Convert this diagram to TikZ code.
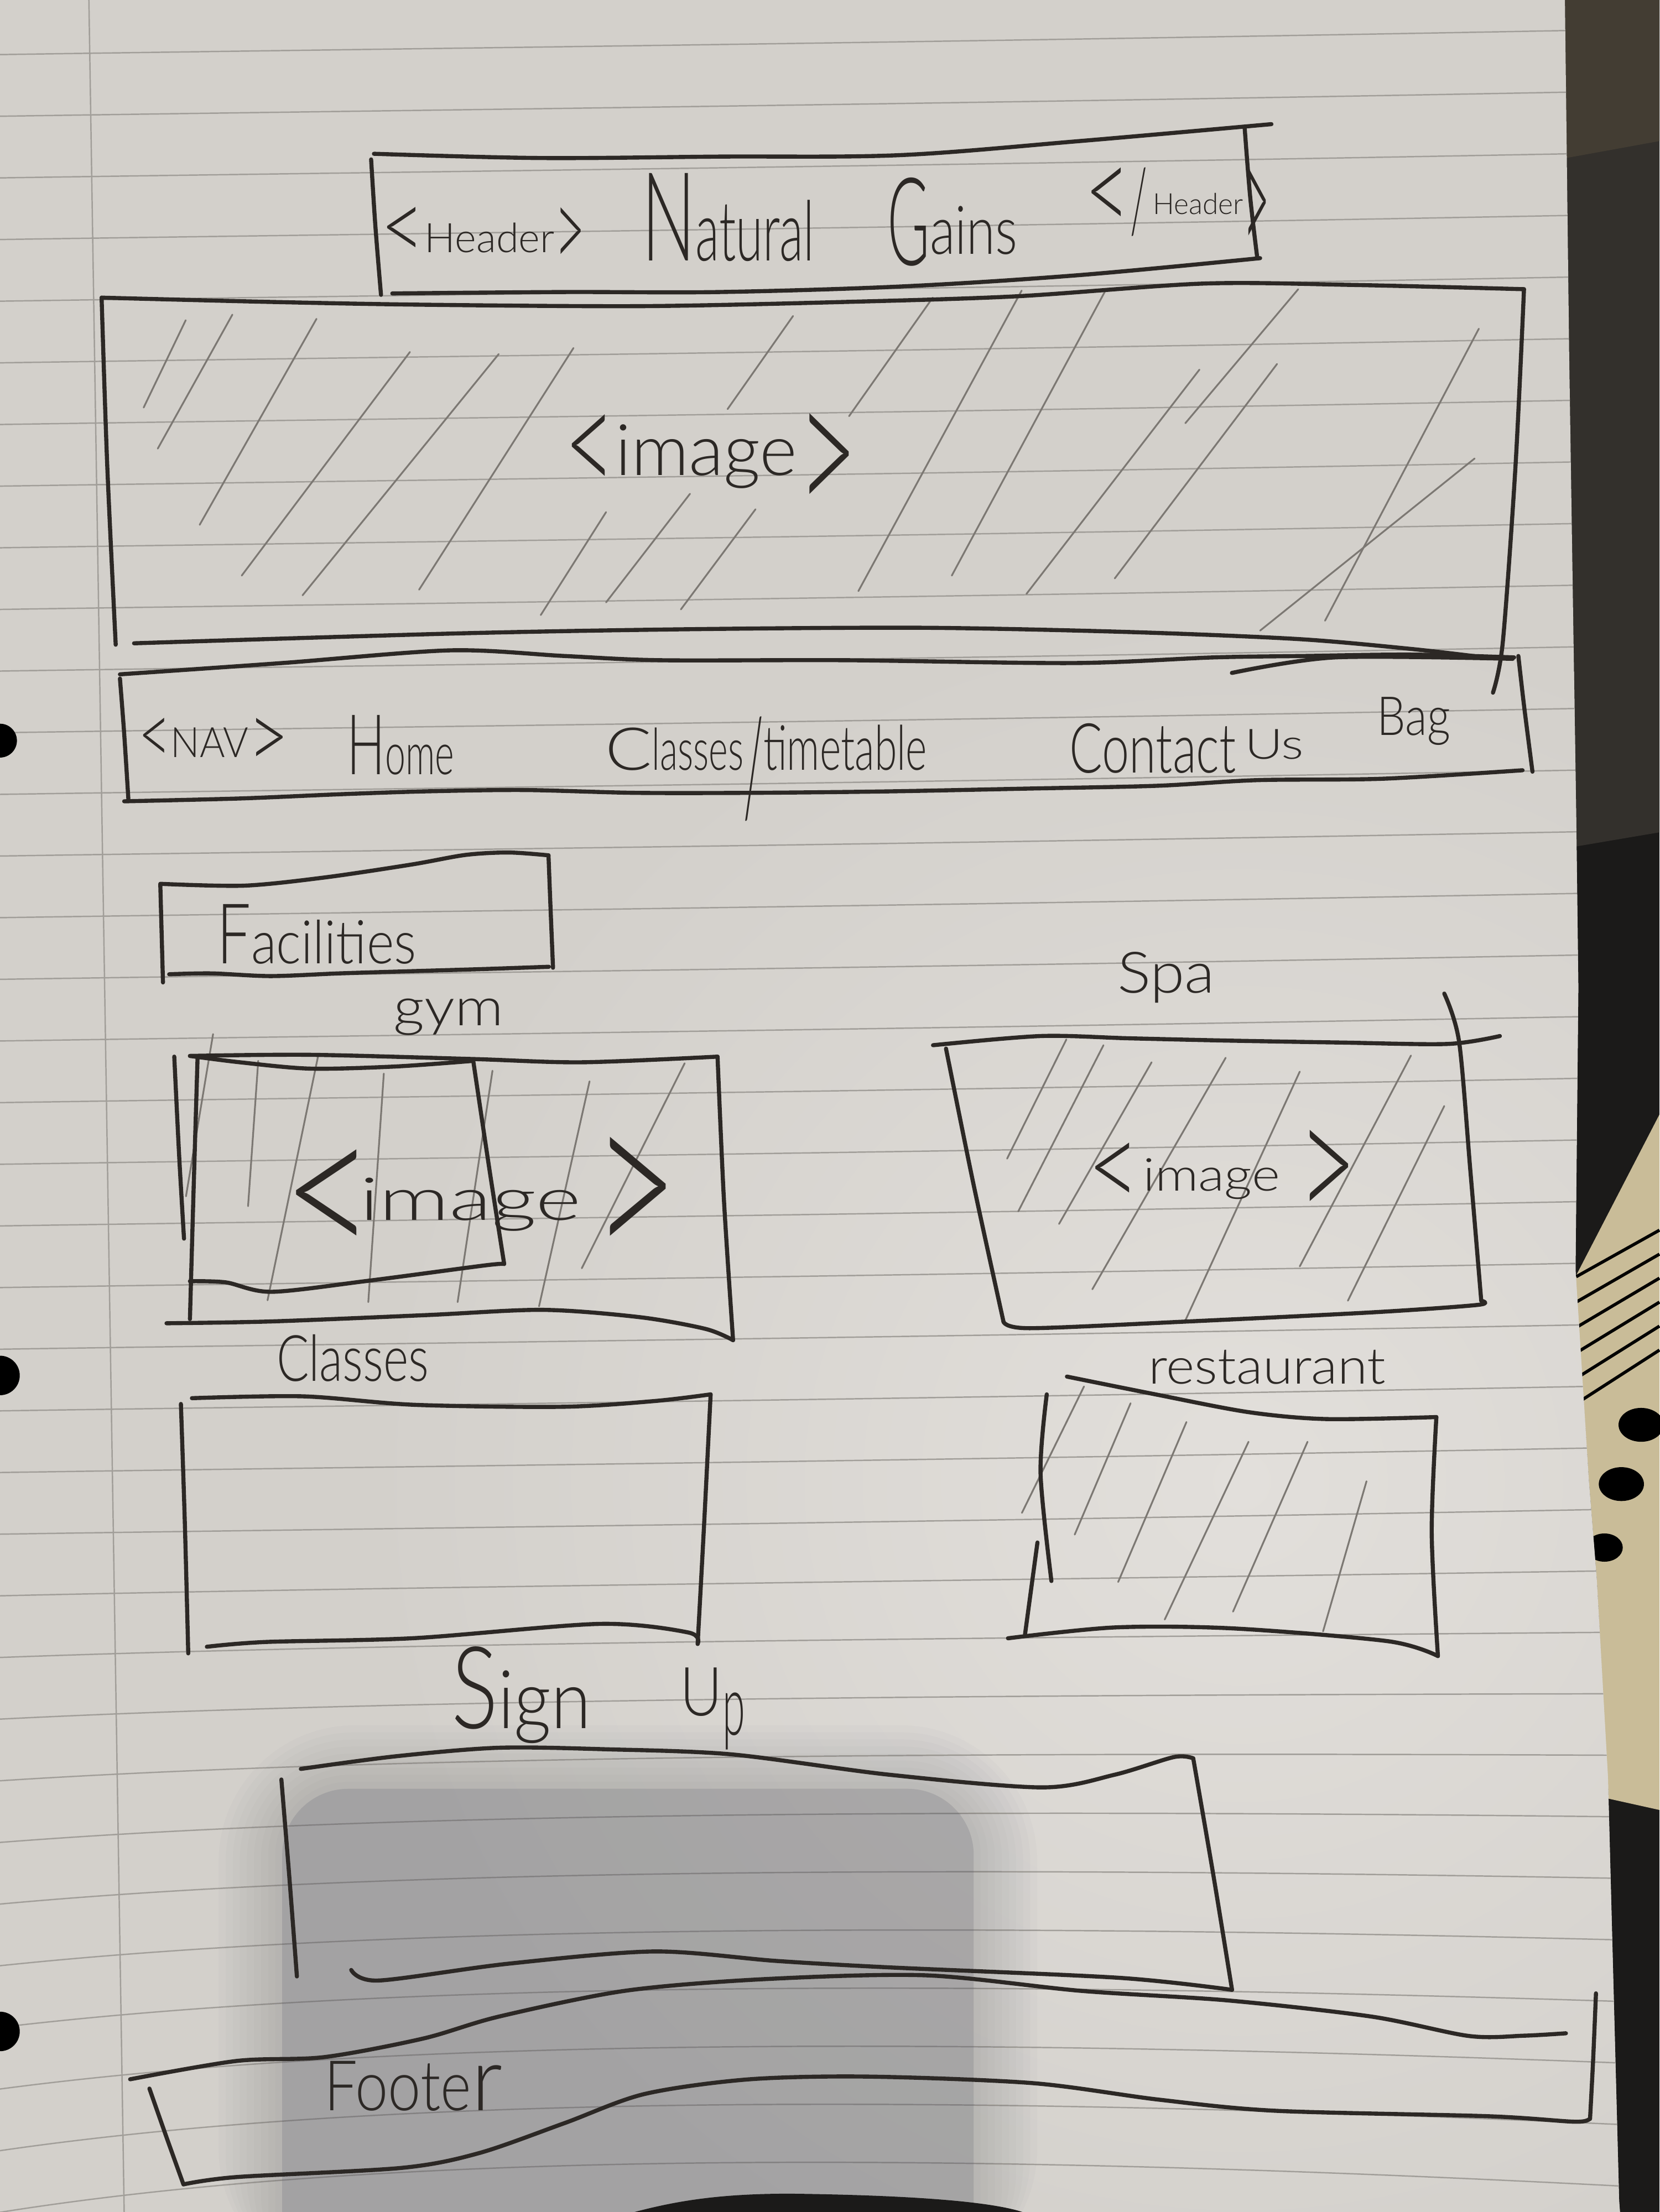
\documentclass[tikz,border=0pt]{standalone}
\usepackage{fontspec}
\usepackage{graphicx}
\IfFontExistsTF{Lato Light}{\newfontfamily\hand{Lato Light}}{\newfontfamily\hand{Lato}}
% one drawing unit of the sketch, as a TeX length
\newlength\dpx \setlength\dpx{0.7258pt}
% handwritten piece: width, height (above baseline), text
\newcommand\hw[3]{\resizebox{#1\dpx}{#2\dpx}{\hand #3}}
% same, shifted vertically
\newcommand\hwr[4]{\raisebox{#3\dpx}{\hw{#1}{#2}{#4}}}

\definecolor{ink}{HTML}{2C2825}
\definecolor{pencil}{HTML}{7C7873}
\definecolor{rulec}{HTML}{A19E99}
\definecolor{paper}{HTML}{D3D0CB}
\definecolor{paperhi}{HTML}{E2DFDB}
\definecolor{desk}{HTML}{1B1A19}
\definecolor{deskhi}{HTML}{33302C}
\definecolor{desktop}{HTML}{433D33}
\definecolor{coverc}{HTML}{C9BC98}
\definecolor{shadowc}{HTML}{4E5060}

\tikzset{
  pen/.style={draw=ink, line width=2.1pt, line cap=round, line join=round},
  hatch/.style={draw=pencil, line width=0.9pt, line cap=round},
  ruled/.style={draw=rulec, line width=0.7pt},
  script/.style={inner sep=0pt, outer sep=0pt, anchor=base west, text=ink},
}

\begin{document}
\begin{tikzpicture}[x=0.02551cm,y=-0.02551cm]
\useasboundingbox (0,0) rectangle (1176,1568);

% ---------- desk and notebook behind the sheet ----------
\fill[desk] (0,0) rectangle (1176,1568);
\fill[deskhi] (1109,0) -- (1176,0) -- (1176,590) -- (1117,600) -- (1112,250) -- cycle;
\fill[desktop] (1109,0) -- (1176,0) -- (1176,100) -- (1110,112) -- cycle;
\fill[coverc] (1116.5,905) -- (1176,790) -- (1176,1283) -- (1140,1275)
  -- (1131.6,1120) -- (1126,1050) -- cycle;
\foreach \w in {0,...,5}
  \draw[black, line width=1.6pt] (1117,{905+18*\w}) -- (1176,{872+17*\w});
\fill[black] (1163,1010) ellipse (16 and 12);
\fill[black] (1149,1052) ellipse (16 and 12);
\fill[black] (1137,1097) ellipse (13 and 10);

% ---------- the sheet ----------
\path[fill=paper, save path=\pagepath]
  (0,0) -- (1109,0) -- (1112,250) -- (1117,580) -- (1118.5,700) -- (1116.5,900)
  -- (1126,1050) -- (1131.6,1120) -- (1139.5,1260) -- (1147.4,1560) -- (1148,1568)
  -- (0,1568) -- cycle;
\begin{scope}
  \clip[use path=\pagepath];
  \shade[inner color=paperhi, outer color=paper] (880,1050) circle (620);
  % ruled lines
  \foreach \k in {0,...,35}{
    \pgfmathsetmacro\yy{32.7+43.7*\k}
    \pgfmathsetmacro\hh{max(0,(\yy-1100)/470)*38}
    \draw[ruled] (0,\yy+6) .. controls (260,\yy+2-\hh) and (640,\yy-2-\hh) .. (1160,\yy-12);
  }
  % margin line
  \draw[ruled] (63,0) -- (88,1568);
  % soft hand shadow over the lower part
  \foreach \i in {0,...,9}{
    \pgfmathsetmacro\rr{34+4*\i}
    \fill[shadowc, opacity=0.025, rounded corners=\rr pt]
      (200-5*\i,1268-5*\i) rectangle (690+5*\i,1620);
  }
  \fill[shadowc, opacity=0.15, rounded corners=34pt] (200,1268) rectangle (690,1620);
\end{scope}
% punched holes
\fill[black] (0,525) circle (12);
\fill[black] (0,975) circle (14);
\fill[black] (0,1440) circle (14);
% dark object at the lower edge
\fill[desk] (449.6,1568) .. controls (480,1560) and (510,1555) .. (560,1555)
  .. controls (640,1556) and (700,1560) .. (724.6,1568) -- cycle;

% ---------- pencil hatching of image areas ----------
\foreach \a/\b/\c/\d in {
  101.8/288.9/131.6/227, 111.8/318/164.7/223, 141.5/372/224.3/226,
  171.3/408/290.5/249.5, 214.4/422/353.4/251, 297/418/406.4/246.7,
  383.2/436/429.5/363, 429.5/427/489/350, 482.5/432/535.4/361,
  515.6/290/562/224, 608.3/419/724/206, 601.7/295/661/211,
  674.5/408/783.7/205.4, 727.4/421/850/262, 790/410/905/258,
  840/300/920/205, 893/447/1045/325, 939/440/1048/233}
  \draw[hatch] (\a,\b) -- (\c,\d);
\foreach \a/\b/\c/\d in {
  131.8/848/151/733, 175.8/855/183/752, 189.6/921.7/225.3/749.2,
  261/923/272/761, 324.3/923/349/759, 382/926/417.8/766.5,
  412.3/899/485.2/753.7}
  \draw[hatch] (\a,\b) -- (\c,\d);
\foreach \a/\b/\c/\d in {
  713.7/821.3/755.7/736.8, 721.6/858.7/782/740.9, 750.5/867.6/816.1/753,
  774.1/913.9/868.6/749.8, 839.7/936.7/921.1/759.6, 921.1/897.7/999.9/748.2,
  955.2/922/1023.5/784}
  \draw[hatch] (\a,\b) -- (\c,\d);
\foreach \a/\b/\c/\d in {
  724.2/1072.4/768.2/982.8, 761.6/1087.8/801.2/994.7, 792.4/1121.4/840.8/1008,
  825.4/1148/884.8/1022, 873.8/1142.4/926.6/1022, 937.6/1156.4/968.4/1050}
  \draw[hatch] (\a,\b) -- (\c,\d);

% ---------- header box ----------
\draw[pen] plot[smooth, tension=0.55] coordinates {(265,109) (382,112) (510,111) (637,110) (765,100) (901,88)};
\draw[pen] plot[smooth, tension=0.55] coordinates {(263,113) (266,160) (270,209)};
\draw[pen] plot[smooth, tension=0.55] coordinates {(882,90) (886,140) (891,183)};
\draw[pen] plot[smooth, tension=0.55] coordinates {(278,208) (400,207) (510,207) (640,203) (765,195) (893,183)};

% ---------- hero image box ----------
\draw[pen] plot[smooth, tension=0.5] coordinates {(72,211) (191,214) (300,216) (456,217) (600,214) (721,210) (853,201) (960,202) (1080,205)};
\draw[pen] plot[smooth, tension=0.5] coordinates {(1080,205) (1074,330) (1065,455) (1058,491)};
\draw[pen] plot[smooth, tension=0.5] coordinates {(72,211) (76,330) (82,457)};
\draw[pen] plot[smooth, tension=0.5] coordinates {(95,456) (324,449) (490,446) (655,445) (800,448) (920,453) (1000,460) (1052,466)};

% ---------- navigation bar ----------
\draw[pen] plot[smooth, tension=0.5] coordinates {(85,478) (200,470) (319,461) (400,465) (468,468) (600,468) (761,470) (860,466) (924,465) (1000,464) (1073,466)};
\draw[pen] plot[smooth, tension=0.5] coordinates {(873,477) (946,466) (1072,467)};
\draw[pen] plot[smooth, tension=0.5] coordinates {(85,481) (88,520) (91,567)};
\draw[pen] plot[smooth, tension=0.5] coordinates {(1076,465) (1080,500) (1086,547)};
\draw[pen] plot[smooth, tension=0.5] coordinates {(88,568) (170,566) (241,563) (300,561) (371,560) (450,562) (533,562) (628,561) (728,559) (820,557) (891,553) (980,552) (1079,546)};

% ---------- facilities heading box ----------
\draw[pen] plot[smooth, tension=0.5] coordinates {(113.6,626.5) (173,627.8) (230,622) (291.8,612.8) (330,606) (360.6,604.3) (388.7,606.3)};
\draw[pen] plot[smooth, tension=0.5] coordinates {(388.7,606.3) (390,640) (391.9,686)};
\draw[pen] plot[smooth, tension=0.5] coordinates {(389,685.3) (340,687) (285.6,688.6) (240,690) (191.8,691.9) (150,690) (119.9,690.6)};
\draw[pen] plot[smooth, tension=0.5] coordinates {(113.6,627) (114.5,660) (115.5,696.4)};

% ---------- gym box ----------
\draw[pen] plot[smooth, tension=0.5] coordinates {(134.6,748.5) (219.8,747.7) (335.3,750.7) (412.3,753) (508.5,749)};
\draw[pen] plot[smooth, tension=0.5] coordinates {(508.5,749) (513,850) (519.5,950)};
\draw[pen] plot[smooth, tension=0.5] coordinates {(118,938) (192.3,936.7) (302.3,932.2) (384.8,928.5) (453.5,933.7) (500,942) (519.5,950)};
\draw[pen] plot[smooth, tension=0.5] coordinates {(140,750) (137,850) (134.6,935)};
\draw[pen] plot[smooth, tension=0.5] coordinates {(123.5,749) (127,820) (130.4,878)};
\draw[pen] plot[smooth, tension=0.5] coordinates {(134.6,748.5) (170,753) (219.8,757.5) (280,756) (335.3,752)};
\draw[pen] plot[smooth, tension=0.5] coordinates {(335.3,751.5) (347,830) (357.3,896)};
\draw[pen] plot[smooth, tension=0.5] coordinates {(134.6,908.2) (160,909) (192.3,915.7) (260,908) (343.5,897) (357,896)};

% ---------- spa box ----------
\draw[pen] plot[smooth, tension=0.5] coordinates {(661.2,740.9) (737.4,734.4) (800,736) (868.6,737.6) (950,739) (1026,740) (1062.9,734.4)};
\draw[pen] plot[smooth, tension=0.5] coordinates {(670.4,743.3) (690,840) (711.1,936.7)};
\draw[pen] plot[smooth, tension=0.5] coordinates {(711.1,936.7) (729.5,941.5) (842.4,936.7) (973.6,930.2) (1047,925) (1049.7,922)};
\draw[pen] plot[smooth, tension=0.5] coordinates {(1023.5,704.3) (1034,738.4) (1042,830) (1049.7,922)};

% ---------- classes box ----------
\draw[pen] plot[smooth, tension=0.5] coordinates {(136,991.1) (214.8,989.8) (293.6,995.8) (398.6,997.2) (464.2,993.1) (503.6,988.4)};
\draw[pen] plot[smooth, tension=0.5] coordinates {(503.6,988.4) (499,1080) (494.4,1165.3)};
\draw[pen] plot[smooth, tension=0.5] coordinates {(494.4,1165.3) (487.8,1157.2) (424.8,1151.1) (293.6,1161.2) (188.6,1163.9) (146.6,1167.3)};
\draw[pen] plot[smooth, tension=0.5] coordinates {(128.2,995.2) (131,1080) (133.4,1172)};

% ---------- restaurant box ----------
\draw[pen] plot[smooth, tension=0.5] coordinates {(756.1,975.8) (818.8,988.4) (884.8,1001) (939.8,1005.9) (1017.9,1004.5)};
\draw[pen] plot[smooth, tension=0.5] coordinates {(1017.9,1004.5) (1014.6,1086.4) (1019,1173.9)};
\draw[pen] plot[smooth, tension=0.5] coordinates {(1019,1173.9) (983.8,1163.4) (873.8,1154.3) (790.2,1153.6) (714.3,1161.3)};
\draw[pen] plot[smooth, tension=0.5] coordinates {(726.4,1158.5) (735.2,1093.4)};
\draw[pen] plot[smooth, tension=0.5] coordinates {(741.8,988.4) (737.4,1044.4) (745.1,1120.7)};

% ---------- sign-up box ----------
\draw[pen] plot[smooth, tension=0.5] coordinates {(213.2,1253.9) (280,1245) (353.4,1238.9) (430,1240) (518.4,1243.6) (630,1258) (738.4,1267) (790,1258) (831.9,1245.5) (845.6,1246.4)};
\draw[pen] plot[smooth, tension=0.5] coordinates {(845.6,1246.4) (860,1330) (873.1,1410.5)};
\draw[pen] plot[smooth, tension=0.5] coordinates {(248.9,1396.4) (268.2,1403.9) (360,1392) (463.4,1383.3) (550,1390) (628.4,1394.5) (793.4,1402) (873.1,1410.5)};
\draw[pen] plot[smooth, tension=0.5] coordinates {(199.4,1261.4) (205,1330) (210.4,1401)};

% ---------- footer ----------
\draw[pen] plot[smooth, tension=0.5] coordinates {(92.2,1473.9) (167.8,1460.9) (229.7,1458.2) (300,1445) (353.4,1429.5) (442.8,1411.2) (540,1403) (655.9,1400.2) (765.9,1411.2) (870,1418) (972.2,1429.5) (1040.9,1443.2) (1080,1443) (1109.7,1441.3)};
\draw[pen] plot[smooth, tension=0.5] coordinates {(1131,1413) (1129,1460) (1126.8,1502)};
\draw[pen] plot[smooth, tension=0.5] coordinates {(130,1548.4) (167.8,1543.2) (284.7,1536.7) (339.6,1526.2) (400,1505) (456.5,1484.4) (530,1474) (614.7,1472) (731.5,1476.6) (820.9,1488.3) (903.4,1496.2) (1054.7,1500.1) (1116.5,1504) (1126.8,1501.4)};
\draw[pen] plot[smooth, tension=0.5] coordinates {(105.9,1480.5) (118,1515) (130,1548.4)};

% ---------- handwritten labels ----------
\node[script] (hdropen) at (270,179) {\hwr{31}{38}{-6}{<}\hw{92}{21}{Header}\hwr{22}{44}{-12}{>}};
\node[script] (natural) at (455,185) {\hw{38}{62}{N}\hw{84}{43}{atural}};
\node[script] (gains) at (629,180) {\hwr{30}{62}{-8}{G}\hw{62}{34}{ains}};
\node[script] (hdrclose) at (769,152) {\hwr{32}{46}{-13}{<}\hwr{12}{46}{-13}{/}\hspace{4\dpx}\hw{64}{15}{Header}\hwr{19}{64}{-31}{>}};

\node[script] (heroimg) at (400,337) {\hwr{36}{58}{-15}{<}\hw{129}{36}{image}\hwr{43}{76}{-32}{>}};

\node[script] (navtag) at (98,537) {\hwr{23}{33}{-5}{<}\hw{55}{21}{NAV}\hwr{29}{36}{-8}{>}};
\node[script] (navhome) at (246,549) {\hw{27}{42}{H}\hw{49}{21}{ome}};
\node[script] (navclasses) at (429,546) {\hw{33}{30}{C}\hw{65}{30}{lasses}\hwr{14}{70}{-32}{/}\hw{116}{32}{timetable}};
\node[script] (navcontact) at (758,548) {\hw{118}{35}{Contact}\hspace{6\dpx}\hwr{42}{21}{10}{Us}};
\node[script] (navbag) at (976,521) {\hw{52}{27}{Bag}};

\node[script] (facilities) at (154,683) {\hw{24}{42}{F}\hw{117}{31}{acilities}};
\node[script] (gymlabel) at (279,727) {\hw{78}{19}{gym}};
\node[script] (spalabel) at (792,704) {\hw{69}{29}{Spa}};
\node[script] (gymimg) at (200,865) {\hwr{66}{81}{-31}{<}\hspace{-11\dpx}\hw{157}{30}{image}\hspace{8\dpx}\hwr{61}{93}{-34}{>}};
\node[script] (spaimg) at (771,844) {\hwr{37}{47}{-13}{<}\hspace{2\dpx}\hw{97}{23}{image}\hspace{13\dpx}\hwr{42}{67}{-24}{>}};
\node[script] (classeslabel) at (196,979) {\hw{108}{33}{Classes}};
\node[script] (restlabel) at (814,981) {\hw{168}{24}{restaurant}};
\node[script] (signup) at (320,1225) {\hw{33}{58}{S}\hw{66}{41}{ign}\hspace{63\dpx}\hwr{30}{34}{9}{U}\hwr{16}{30}{-5}{p}};
\node[script] (footer) at (230,1496) {\hw{104}{35}{Foote}\hw{22}{32}{r}};
\end{tikzpicture}
\end{document}
